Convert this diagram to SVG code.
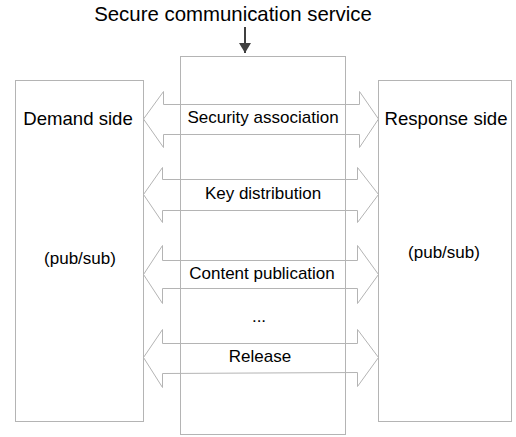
<svg xmlns="http://www.w3.org/2000/svg" width="516" height="437" viewBox="0 0 516 437">
<defs>
<style>
.box{fill:none;stroke:#b4b4b4;stroke-width:1}
.arr{fill:none;stroke:#b4b4b4;stroke-width:1;stroke-linejoin:miter}
text{font-family:"Liberation Sans",Arial,sans-serif;fill:#000;text-anchor:middle}
.t{font-size:20.4px}
.s{font-size:18.6px}
.l{font-size:17px}
</style>
<marker id="ah" markerWidth="14" markerHeight="14" refX="10" refY="6.5" orient="auto" markerUnits="userSpaceOnUse">
<path d="M0,0.5 L10,6.5 L0,12.5 Z" fill="#404040"/>
</marker>
</defs>
<rect width="516" height="437" fill="#fff"/>
<text class="t" x="233" y="21">Secure communication service</text>
<g id="nodes">
<g id="demand"><rect class="box" x="15.5" y="80.5" width="128" height="341"/><text class="s" x="78" y="125">Demand side</text><text class="l" x="80" y="264">(pub/sub)</text></g>
<g id="service"><rect class="box" x="180.5" y="56.5" width="165" height="378"/></g>
<g id="response"><rect class="box" x="378.5" y="80.5" width="133" height="341"/><text class="s" x="446" y="125">Response side</text><text class="l" x="444" y="258">(pub/sub)</text></g>
</g>
<g id="connectors">
<line x1="245" y1="27" x2="245" y2="53" stroke="#404040" stroke-width="2" marker-end="url(#ah)"/>
<path class="arr" d="M143.5,119 L163.5,91.5 L163.5,104.5 L359.5,104.5 L359.5,91.5 L378.5,119 L359.5,147.5 L359.5,134.5 L163.5,134.5 L163.5,147.5 Z"/>
<path class="arr" d="M143.5,194.5 L162.5,167.5 L162.5,179.5 L357.5,179.5 L357.5,167.5 L378.5,194.5 L357.5,222.5 L357.5,210.5 L162.5,210.5 L162.5,222.5 Z"/>
<path class="arr" d="M143.5,274.5 L162.5,245.5 L162.5,260.5 L357.5,260.5 L357.5,245.5 L378.5,274.5 L357.5,303.5 L357.5,288.5 L162.5,288.5 L162.5,303.5 Z"/>
<path class="arr" d="M143.5,357.5 L162.5,329.5 L162.5,343.5 L357.5,343.5 L357.5,329.5 L378.5,357.5 L357.5,386.5 L357.5,372.5 L162.5,373.5 L162.5,387.5 Z"/>
<text class="l" x="263" y="123">Security association</text>
<text class="l" x="263" y="199">Key distribution</text>
<text class="l" x="262" y="279">Content publication</text>
<text class="l" x="259" y="322">...</text>
<text class="l" x="260" y="362">Release</text>
</g>
</svg>
